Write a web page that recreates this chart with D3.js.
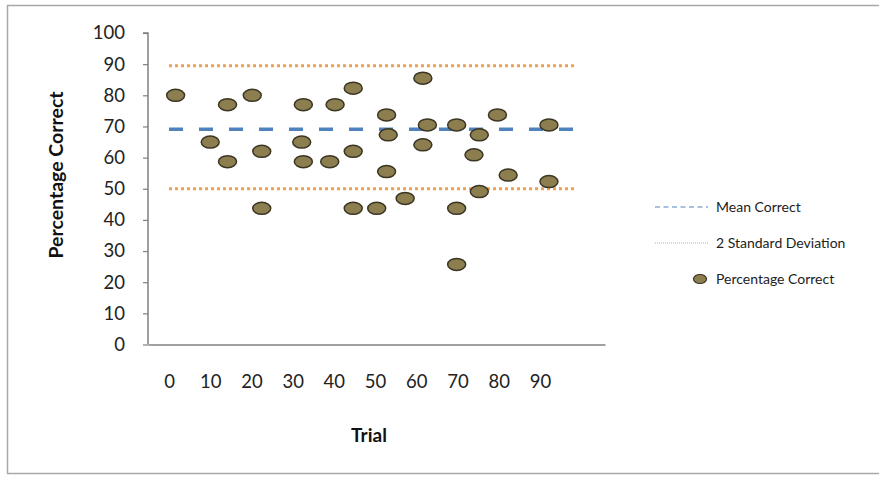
<!DOCTYPE html>
<html><head><meta charset="utf-8">
<script src="https://cdn.jsdelivr.net/npm/d3@7"></script>
<style>
html,body{margin:0;padding:0;background:#fff;}
svg{display:block;font-family:Lato,"Open Sans",sans-serif;}
</style></head>
<body>
<svg id="chart" width="879" height="477"></svg>
<script>
// Data
const trials = [1.6,10,14.2,14.2,20.2,22.5,22.5,32.6,32.2,32.6,40.3,39,44.7,44.7,44.7,50.4,52.8,53.2,52.8,57.3,61.6,62.7,61.6,69.8,69.8,69.8,75.3,74,75.3,79.7,82.3,92.2,92.2];
const percentCorrect = [80,65,77,58.7,80,62,43.7,77,65,58.7,77,58.7,82.3,62,43.7,43.7,73.7,67.3,55.5,46.9,85.5,70.5,64.1,70.5,43.7,25.7,67.3,60.9,49.1,73.7,54.4,70.5,52.3];
const meanCorrect = 69.1;
const sdUpper = 89.5;
const sdLower = 50.0;
const lineSpan = [0, 99];
const xTicks = [0,10,20,30,40,50,60,70,80,90];
const yTicks = [0,10,20,30,40,50,60,70,80,90,100];
const legendLabels = ["Mean Correct","2 Standard Deviation","Percentage Correct"];

const svg = d3.select("#chart");
const blue = "#4F81BD", orange = "#F0A050", fillC = "#8C7E4E", strokeC = "#3b3524";

// outer border
svg.append("rect").attr("x",7.5).attr("y",5.5).attr("width",880).attr("height",468)
  .attr("fill","none").attr("stroke","#a8a8a8").attr("stroke-width",1.5);

const x = d3.scaleLinear().domain([-5.1,105.8]).range([148,605]);
const y = d3.scaleLinear().domain([0,100]).range([344.5,33]);

// y axis
const yAxis = svg.append("g").attr("transform","translate(148,0)")
  .call(d3.axisLeft(y).tickValues(yTicks).tickSize(5).tickPadding(18));
yAxis.select(".domain").attr("stroke","#808080").attr("stroke-width",1.5).attr("d","M-5,33H0V344.5");
yAxis.selectAll(".tick line").attr("stroke","#808080").attr("stroke-width",1.2);
yAxis.selectAll(".tick text").attr("font-size",18.5).attr("fill","#222").attr("font-family","Lato, sans-serif");

// x axis
const xAxis = svg.append("g").attr("transform","translate(0,344.5)")
  .call(d3.axisBottom(x).tickValues(xTicks).tickSize(0).tickPadding(30));
xAxis.select(".domain").attr("stroke","#808080").attr("stroke-width",1.5);
xAxis.selectAll(".tick text").attr("font-size",18.5).attr("fill","#222").attr("font-family","Lato, sans-serif");

// axis titles
svg.append("text").attr("transform","translate(63,175) rotate(-90)")
  .attr("text-anchor","middle").attr("font-weight","bold").attr("font-size",19.5).attr("fill","#111")
  .text("Percentage Correct");
svg.append("text").attr("x",369).attr("y",442).attr("text-anchor","middle")
  .attr("font-weight","bold").attr("font-size",19).attr("fill","#111").text("Trial");

// SD lines
[sdUpper, sdLower].forEach(v => {
  svg.append("line").attr("x1",x(lineSpan[0])).attr("x2",x(lineSpan[1]))
    .attr("y1",y(v)).attr("y2",y(v))
    .attr("stroke",orange).attr("stroke-width",3).attr("stroke-dasharray","3,3");
});
// mean line
svg.append("line").attr("x1",x(lineSpan[0])).attr("x2",x(lineSpan[1]))
  .attr("y1",y(meanCorrect)).attr("y2",y(meanCorrect))
  .attr("stroke",blue).attr("stroke-width",3.5).attr("stroke-dasharray","14,16");

// points
svg.append("g").selectAll("ellipse").data(trials.map((t,i)=>[t,percentCorrect[i]]))
  .join("ellipse")
  .attr("cx",d=>x(d[0])).attr("cy",d=>y(d[1]))
  .attr("rx",9).attr("ry",6)
  .attr("fill",fillC).attr("stroke",strokeC).attr("stroke-width",1.5);

// legend
const lg = svg.append("g").attr("font-size",14).attr("fill","#222");
const ly = [207, 243, 279];
lg.append("line").attr("x1",655).attr("x2",708).attr("y1",ly[0]).attr("y2",ly[0])
  .attr("stroke",blue).attr("stroke-width",1.2).attr("stroke-dasharray","5,3.5");
lg.append("line").attr("x1",655).attr("x2",708).attr("y1",ly[1]).attr("y2",ly[1])
  .attr("stroke",orange).attr("stroke-width",1).attr("stroke-dasharray","1,1");
lg.append("ellipse").attr("cx",700).attr("cy",ly[2]).attr("rx",6.5).attr("ry",4.5)
  .attr("fill",fillC).attr("stroke",strokeC).attr("stroke-width",1.2);
legendLabels.forEach((t,i)=>{
  lg.append("text").attr("x",716).attr("y",ly[i]).attr("dy","0.35em").text(t);
});
</script>
</body></html>
